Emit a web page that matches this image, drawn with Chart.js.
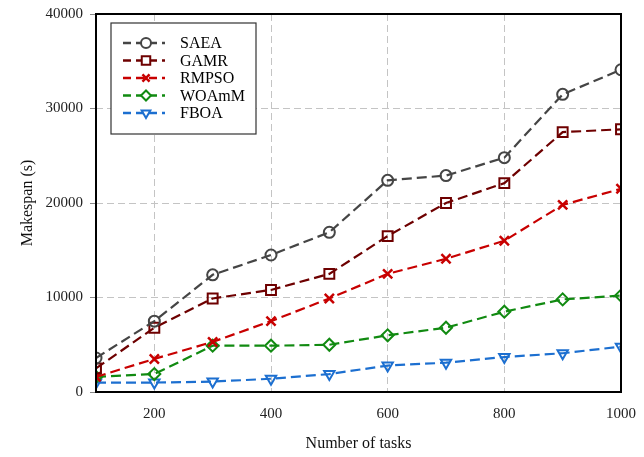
<!DOCTYPE html>
<html>
<head>
<meta charset="utf-8">
<script src="https://cdn.jsdelivr.net/npm/chart.js@4"></script>
<style>
  html, body { margin: 0; padding: 0; background: #fff; }
  #wrap { width: 644px; height: 457px; }
</style>
</head>
<body>
<div id="wrap"><canvas id="chart" width="644" height="457"></canvas></div>
<script>
const tasks  = [100, 200, 300, 400, 500, 600, 700, 800, 900, 1000];
const xTicks = [200, 400, 600, 800, 1000];
const yTicks = [0, 10000, 20000, 30000, 40000];

const saea  = [3600, 7500, 12400, 14500, 16900, 22400, 22900, 24800, 31500, 34100];
const gamr  = [2500, 6800, 9900, 10800, 12500, 16500, 20000, 22100, 27500, 27800];
const rmpso = [1600, 3500, 5300, 7500, 9900, 12500, 14100, 16000, 19800, 21500];
const woamm = [1600, 1900, 4900, 4900, 5000, 6000, 6800, 8500, 9800, 10200];
const fboa  = [1000, 1000, 1100, 1400, 1900, 2800, 3100, 3700, 4100, 4800];

const FONT = 'Liberation Serif';
const RADIUS = { circle: 5.5, rect: 7, crossRot: 6.5, rectRot: 6, triangle: 6 };

function series(label, data, color, pointStyle, rotation) {
  return {
    label,
    data: tasks.map((t, i) => ({ x: t, y: data[i] })),
    borderColor: color,
    backgroundColor: 'rgba(0,0,0,0)',
    pointBorderColor: color,
    pointBackgroundColor: 'rgba(0,0,0,0)',
    borderWidth: 2.2,
    borderDash: [10, 5],
    pointStyle,
    rotation: rotation || 0,
    pointRadius: RADIUS[pointStyle],
    pointBorderWidth: pointStyle === 'crossRot' ? 2.5 : 2,
    tension: 0
  };
}

// legend drawn inside the plot, upper-left, with a framed box
const insideLegend = {
  id: 'insideLegend',
  afterDatasetsDraw(chart) {
    const c = chart.ctx;
    const a = chart.chartArea;
    const bx = a.left + 15, by = a.top + 9, bw = 145, bh = 111;
    c.save();
    c.fillStyle = '#fff';
    c.fillRect(bx, by, bw, bh);
    c.strokeStyle = '#333';
    c.lineWidth = 1.2;
    c.strokeRect(bx, by, bw, bh);
    chart.data.datasets.forEach((ds, i) => {
      const y = by + 20 + i * 17.5;
      c.strokeStyle = ds.borderColor;
      c.lineWidth = 2.4;
      c.setLineDash([8, 5]);
      c.beginPath();
      c.moveTo(bx + 12, y);
      c.lineTo(bx + 54, y);
      c.stroke();
      c.setLineDash([]);
      c.fillStyle = '#fff';
      c.lineWidth = ds.pointStyle === 'crossRot' ? 2.5 : 2;
      Chart.helpers.drawPoint(c, {
        pointStyle: ds.pointStyle, rotation: ds.rotation,
        radius: ds.pointStyle === 'rect' ? 6 : 5, borderWidth: 2
      }, bx + 35, y);
      c.fillStyle = '#000';
      c.font = '16px "' + FONT + '"';
      c.textBaseline = 'middle';
      c.fillText(ds.label, bx + 69, y + 1);
    });
    c.restore();
  },
  afterDraw(chart) {
    const c = chart.ctx;
    const a = chart.chartArea;
    c.save();
    c.strokeStyle = '#000';
    c.lineWidth = 2;
    c.strokeRect(a.left, a.top, a.right - a.left, a.bottom - a.top);
    c.restore();
  }
};

new Chart(document.getElementById('chart').getContext('2d'), {
  type: 'line',
  data: {
    datasets: [
      series('SAEA',  saea,  '#454545', 'circle'),
      series('GAMR',  gamr,  '#6e0000', 'rect'),
      series('RMPSO', rmpso, '#c80000', 'crossRot'),
      series('WOAmM', woamm, '#118a11', 'rectRot'),
      series('FBOA',  fboa,  '#1c6fd0', 'triangle', 180)
    ]
  },
  options: {
    responsive: false,
    animation: false,
    layout: { padding: { top: 14, right: 23, bottom: 0, left: 14 } },
    plugins: { legend: { display: false }, tooltip: { enabled: false } },
    scales: {
      x: {
        type: 'linear',
        min: 100, max: 1000,
        afterBuildTicks: s => { s.ticks = xTicks.map(v => ({ value: v })); },
        afterFit: s => { s.height = 65; s.paddingLeft = 0; s.paddingRight = 0; },
        ticks: { color: '#222', font: { family: FONT, size: 15 }, padding: 13,
                 callback: v => String(v) },
        grid: { color: '#c4c4c4', borderDash: [7, 4], drawTicks: false, lineWidth: 1 },
        border: { display: false, dash: [7, 4] },
        title: { display: true, text: 'Number of tasks', color: '#111',
                 font: { family: FONT, size: 16 }, padding: { top: 17 } }
      },
      y: {
        min: 0, max: 40000,
        afterBuildTicks: s => { s.ticks = yTicks.map(v => ({ value: v })); },
        afterFit: s => { s.width = 82; s.paddingTop = 0; s.paddingBottom = 0; },
        ticks: { color: '#222', font: { family: FONT, size: 15 }, padding: 7,
                 callback: v => String(v) },
        grid: { color: '#c4c4c4', tickColor: '#888', tickLength: 6, lineWidth: 1 },
        border: { display: false, dash: [7, 4] },
        title: { display: true, text: 'Makespan (s)', color: '#111',
                 font: { family: FONT, size: 16 }, padding: { bottom: 4 } }
      }
    }
  },
  plugins: [insideLegend]
});
</script>
</body>
</html>
